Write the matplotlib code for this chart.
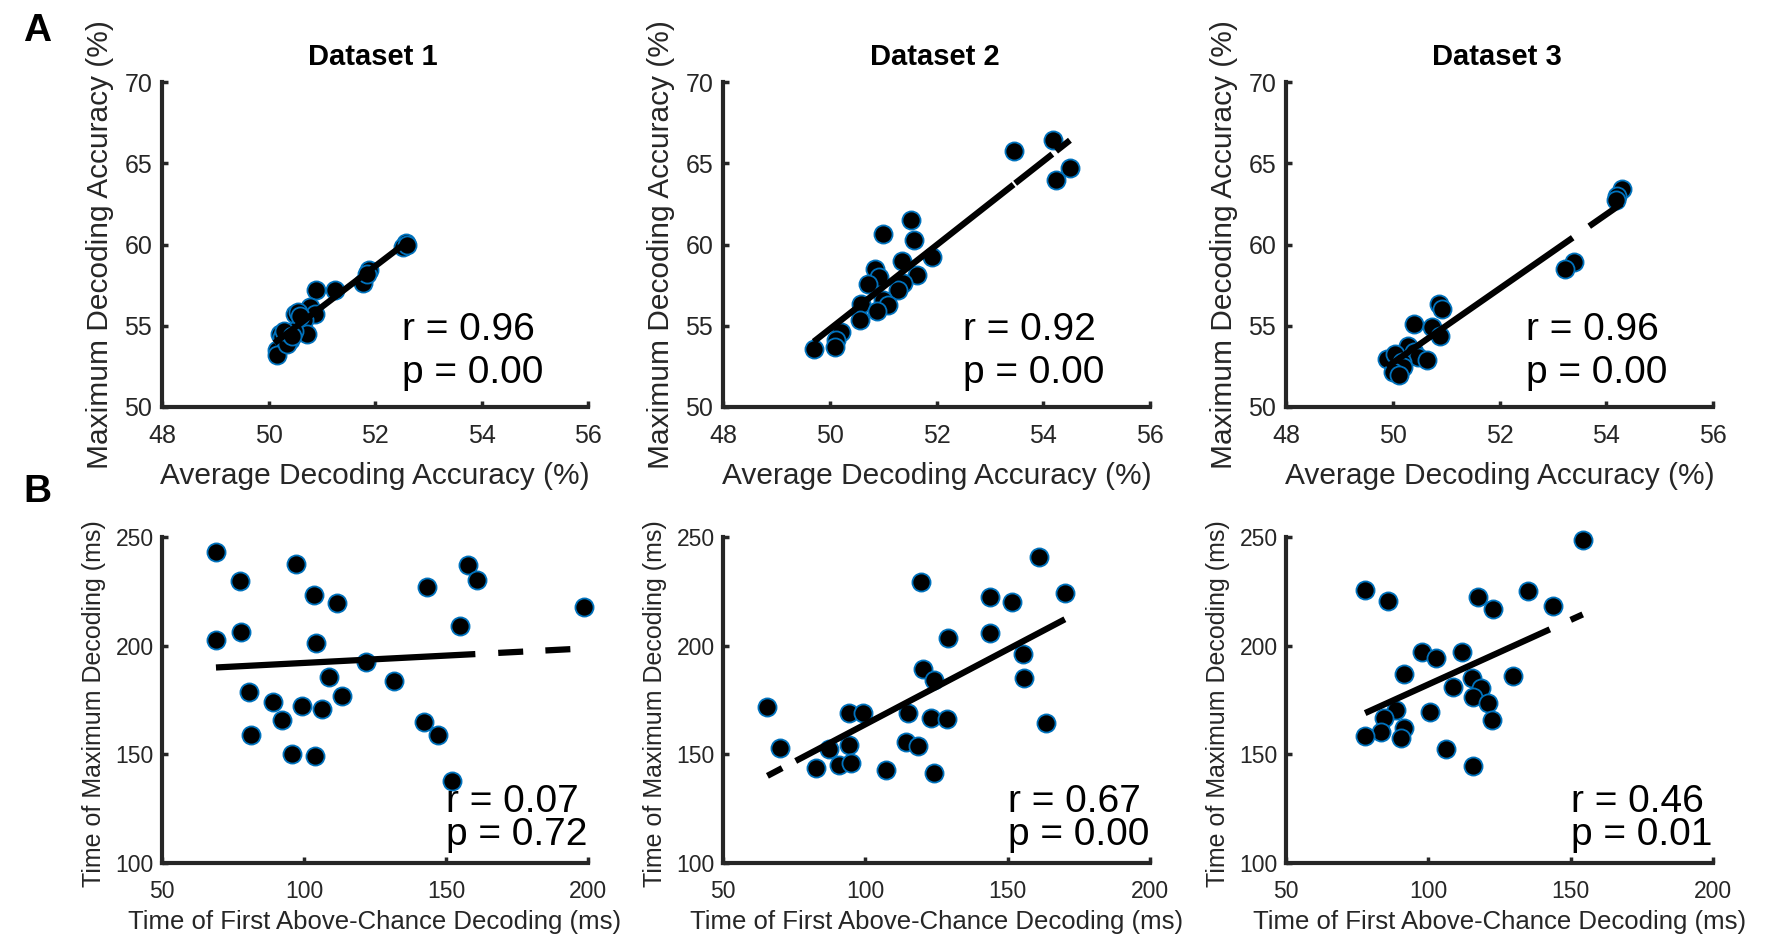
import matplotlib
matplotlib.use('Agg')
import matplotlib.pyplot as plt
import numpy as np

plt.rcParams['font.family'] = ['Liberation Sans', 'DejaVu Sans']
plt.rcParams['lines.scale_dashes'] = False

# ---------------- data ----------------
titles = ['Dataset 1', 'Dataset 2', 'Dataset 3']

a1_x = [52.59, 52.53, 51.88, 51.78, 50.90, 51.25, 50.78, 50.87, 50.50, 50.55, 50.66, 50.72,
        50.47, 50.22, 50.40, 50.16, 50.16, 50.25, 50.34, 50.30, 50.45, 50.60, 52.60, 51.85]
a1_y = [60.09, 59.85, 58.41, 57.63, 57.20, 57.18, 56.15, 55.74, 55.74, 55.85, 55.33, 54.50,
        54.70, 54.50, 54.10, 53.49, 53.18, 54.30, 53.90, 54.70, 54.40, 55.60, 60.00, 58.20]

a2_x = [54.19, 53.45, 54.50, 54.23, 51.53, 51.00, 51.58, 51.92, 51.36, 50.84, 50.92, 51.64,
        50.72, 51.38, 51.27, 51.00, 51.09, 50.59, 50.89, 50.56, 50.22, 50.12, 50.09, 49.70]
a2_y = [66.41, 65.75, 64.73, 63.95, 61.53, 60.63, 60.30, 59.24, 59.00, 58.50, 58.00, 58.10,
        57.56, 57.64, 57.18, 56.57, 56.26, 56.36, 55.90, 55.33, 54.60, 54.10, 53.69, 53.59]

a3_x = [54.29, 54.21, 54.19, 53.39, 53.23, 50.87, 50.92, 50.39, 50.73, 50.88, 50.29, 50.39,
        50.48, 50.64, 49.89, 50.04, 50.17, 50.20, 50.01, 50.11]
a3_y = [63.44, 62.96, 62.76, 58.92, 58.51, 56.36, 56.05, 55.13, 54.92, 54.37, 53.75, 53.38,
        53.08, 52.87, 52.93, 53.28, 52.77, 52.46, 52.15, 52.00]

b1_x = [69.1, 97.3, 77.6, 103.4, 111.7, 143.4, 157.7, 161.0, 198.6, 77.8, 69.0, 104.3, 155.1,
        121.7, 108.7, 131.6, 80.5, 113.4, 89.1, 99.3, 106.4, 92.3, 142.2, 147.1, 81.4, 95.8,
        104.0, 152.2]
b1_y = [242.9, 237.7, 229.6, 223.1, 219.6, 226.9, 237.2, 230.0, 217.7, 206.5, 202.4, 201.4,
        209.1, 192.4, 185.5, 183.9, 178.5, 177.0, 173.9, 172.4, 170.7, 165.8, 165.0, 158.9,
        158.9, 150.0, 149.2, 137.8]

b2_x = [161.1, 119.6, 170.1, 143.9, 151.5, 128.9, 143.7, 155.5, 120.4, 124.0, 155.9, 65.6,
        94.1, 99.3, 114.9, 123.1, 128.6, 163.4, 69.9, 87.2, 94.4, 114.2, 118.6, 82.7, 90.6,
        94.8, 107.1, 124.0]
b2_y = [240.8, 229.1, 224.2, 222.6, 220.3, 203.7, 206.0, 196.2, 189.1, 184.2, 185.0, 171.6,
        168.9, 168.9, 168.9, 166.6, 166.1, 164.2, 152.7, 152.3, 154.3, 155.8, 153.8, 143.5,
        145.0, 145.8, 143.0, 141.5]

b3_x = [154.3, 77.8, 85.7, 117.4, 122.7, 135.0, 143.8, 97.9, 102.7, 112.0, 91.6, 129.6,
        108.5, 115.3, 118.4, 115.6, 121.1, 88.8, 100.6, 84.3, 122.3, 83.2, 91.4, 77.8, 90.4,
        106.1, 115.6]
b3_y = [248.8, 225.7, 220.6, 222.6, 216.8, 225.3, 218.3, 197.0, 194.2, 197.0, 187.0, 186.1,
        181.2, 185.0, 180.4, 176.5, 173.5, 170.4, 169.3, 166.6, 165.6, 160.4, 161.9, 158.4,
        157.6, 152.3, 144.6]

r_labels = ['r = 0.96', 'r = 0.92', 'r = 0.96', 'r = 0.07', 'r = 0.67', 'r = 0.46']
p_labels = ['p = 0.00', 'p = 0.00', 'p = 0.00', 'p = 0.72', 'p = 0.00', 'p = 0.01']

a_xticks = [48, 50, 52, 54, 56]
a_yticks = [50, 55, 60, 65, 70]
b_xticks = [50, 100, 150, 200]
b_yticks = [100, 150, 200, 250]

# ---------------- layout ----------------
W, H = 1772, 939
fig = plt.figure(figsize=(W / 100, H / 100), dpi=100)


def rect(l, t, r, b):
    return [l / W, 1 - b / H, (r - l) / W, (b - t) / H]


cols = [(162, 588), (723, 1150), (1286, 1713)]
rowA = (82, 407)
rowB = (537, 863)
axcol = '#262626'
edge = '#0072BD'

# dash patterns (points) mimicking the rendered fit lines
dashesA = ['-', (0, (183, 1.5, 34, 3.5, 60)), (0, (163, 14.5, 40))]
dashesB = [(0, (187, 16.5, 18, 16, 18, 100)), (0, (12, 11, 400, 1)), (0, (146, 16.5, 9.5, 100))]

datasA = [(a1_x, a1_y), (a2_x, a2_y), (a3_x, a3_y)]
datasB = [(b1_x, b1_y), (b2_x, b2_y), (b3_x, b3_y)]


def style_axes(ax, fs):
    for s in ['top', 'right']:
        ax.spines[s].set_visible(False)
    for s in ['left', 'bottom']:
        ax.spines[s].set_linewidth(3)
        ax.spines[s].set_color(axcol)
    ax.tick_params(direction='in', length=4, width=2.5, color=axcol,
                   labelcolor=axcol, labelsize=fs)


for i in range(3):
    # Row A
    ax = fig.add_axes(rect(cols[i][0], rowA[0], cols[i][1], rowA[1]))
    x, y = np.array(datasA[i][0]), np.array(datasA[i][1])
    ax.scatter(x, y, s=170, facecolor='black', edgecolor=edge, linewidths=1.3, zorder=2,
               clip_on=False)
    k, b = np.polyfit(x, y, 1)
    xs = np.array([x.min(), x.max()])
    ax.plot(xs, k * xs + b, color='black', lw=4.5, linestyle=dashesA[i], zorder=3)
    ax.set_xlim(48, 56)
    ax.set_ylim(50, 70)
    ax.set_xticks(a_xticks)
    ax.set_yticks(a_yticks)
    style_axes(ax, 18)
    ax.tick_params(axis='x', pad=12)
    ax.tick_params(axis='y', pad=7)
    ax.set_xlabel('Average Decoding Accuracy (%)', fontsize=21.5, color=axcol, va='center')
    ax.xaxis.set_label_coords(0.5, -0.212)
    ax.set_ylabel('Maximum Decoding Accuracy (%)', fontsize=21.5, color=axcol, va='center')
    ax.yaxis.set_label_coords(-0.1455, 0.5)
    ax.text(0.495, 1.077, titles[i], transform=ax.transAxes, fontsize=21,
            fontweight='bold', ha='center', va='center', color='black')
    ax.text(52.5, 54.1, r_labels[i], fontsize=28, va='baseline', ha='left', color='black')
    ax.text(52.5, 51.5, p_labels[i], fontsize=28, va='baseline', ha='left', color='black')

    # Row B
    ax = fig.add_axes(rect(cols[i][0], rowB[0], cols[i][1], rowB[1]))
    x, y = np.array(datasB[i][0]), np.array(datasB[i][1])
    ax.scatter(x, y, s=170, facecolor='black', edgecolor=edge, linewidths=1.3, zorder=2,
               clip_on=False)
    k, b = np.polyfit(x, y, 1)
    xs = np.array([x.min(), x.max()])
    ax.plot(xs, k * xs + b, color='black', lw=4.5, linestyle=dashesB[i], zorder=3)
    ax.set_xlim(50, 200)
    ax.set_ylim(100, 250)
    ax.set_xticks(b_xticks)
    ax.set_yticks(b_yticks)
    style_axes(ax, 16.5)
    ax.tick_params(axis='x', pad=12)
    ax.tick_params(axis='y', pad=6)
    ax.set_xlabel('Time of First Above-Chance Decoding (ms)', fontsize=18.5, color=axcol,
                  va='center')
    ax.xaxis.set_label_coords(0.5, -0.181)
    ax.set_ylabel('Time of Maximum Decoding (ms)', fontsize=18, color=axcol, va='center')
    ax.yaxis.set_label_coords(-0.16, 0.49)
    ax.text(150, 123.5, r_labels[i + 3], fontsize=28, va='baseline', ha='left', color='black')
    ax.text(150, 108.2, p_labels[i + 3], fontsize=28, va='baseline', ha='left', color='black')

fig.text(37 / W, 1 - 31 / H, 'A', fontsize=28, fontweight='bold', ha='center', va='center')
fig.text(37 / W, 1 - 492 / H, 'B', fontsize=28, fontweight='bold', ha='center', va='center')

fig.savefig('out.png', dpi=100)
